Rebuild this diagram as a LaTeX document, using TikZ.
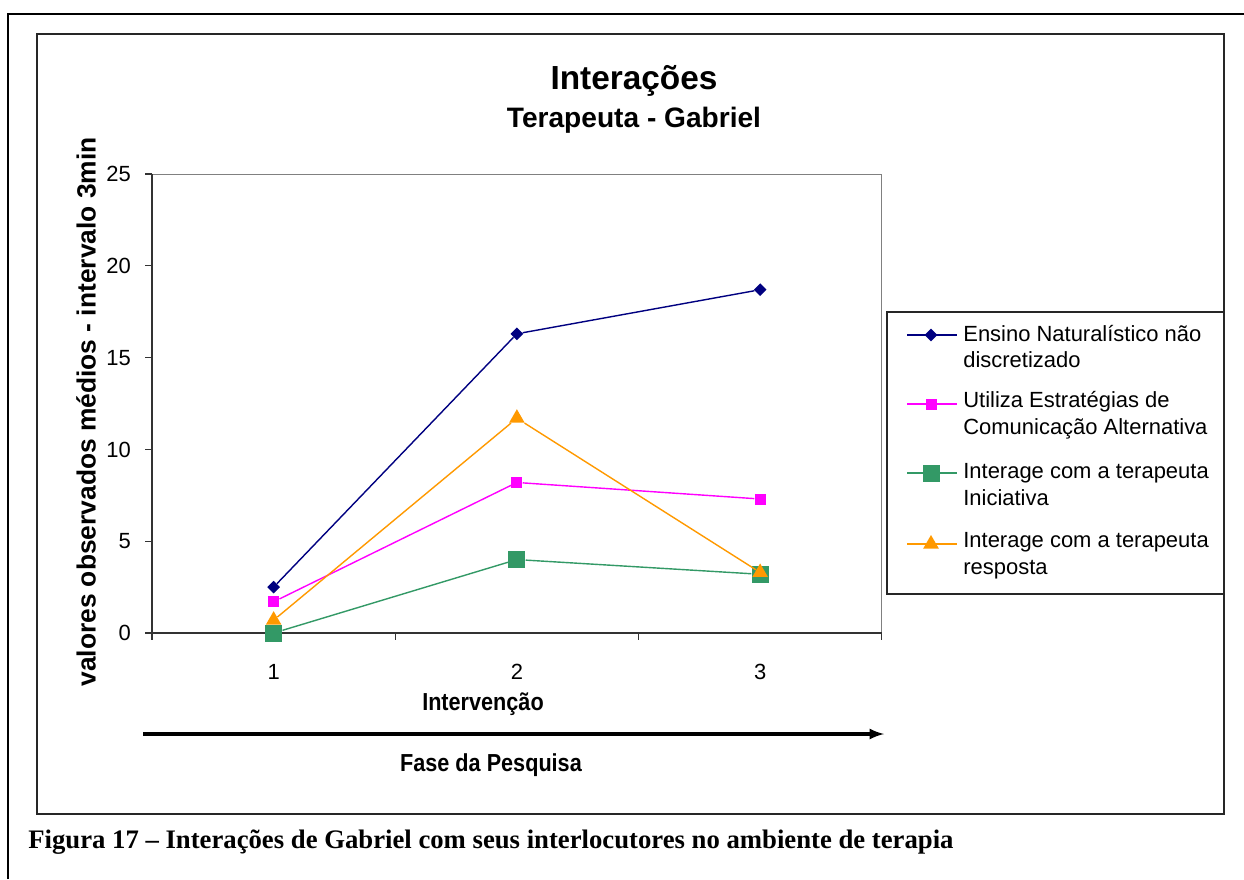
\documentclass[tikz,border=0pt]{standalone}
\usepackage{fontspec}
\setmainfont{Liberation Sans}
\newfontfamily\captionfont{Liberation Serif}
\usetikzlibrary{
    arrows,
    shapes.geometric,
    positioning
}
\definecolor{serieblue}{RGB}{0,0,128}
\definecolor{seriepink}{RGB}{255,0,255}
\definecolor{seriegreen}{RGB}{51,153,102}
\definecolor{serieorange}{RGB}{255,153,0}
\tikzset{
    chartframe/.style={draw=black!85, line width=0.8pt},
    plotbox/.style={draw=black!50, line width=0.6pt},
    axisline/.style={draw=black!80, line width=0.7pt},
    ticklabel/.style={font=\fontsize{12.5}{14}\selectfont},
    legendtext/.style={font=\fontsize{12.5}{15.3}\selectfont, anchor=west, align=left, inner sep=0pt},
    serie/.style={line width=0.8pt},
    bluemark/.style={diamond, fill=serieblue, inner sep=0pt, minimum size=0.26cm},
    pinkmark/.style={rectangle, fill=seriepink, inner sep=0pt, minimum size=0.22cm},
    greenmark/.style={rectangle, fill=seriegreen, inner sep=0pt, minimum size=0.34cm},
    orangemark/.style={regular polygon, regular polygon sides=3, fill=serieorange, inner sep=0pt, minimum size=0.36cm}
}
\begin{document}
\begin{tikzpicture}[x=0.02cm, y=-0.02cm]
    \useasboundingbox (0,0) rectangle (1244,879);
    \draw[line width=1.3pt] (8,879) -- (8,14) -- (1244,14);
    \draw[chartframe] (37,34) rectangle (1224,814);
    \node[font=\bfseries\fontsize{19}{22}\selectfont] (title) at (634,81) {Interações};
    \node[font=\bfseries\fontsize{16}{19}\selectfont] (subtitle) at (634,120) {Terapeuta - Gabriel};
    \node[font=\bfseries\fontsize{15}{18}\selectfont, rotate=90] (ylabel) at (86,412) {valores observados médios - intervalo 3min};
    \begin{scope}[shift={(152,633)}, x=4.866cm, y=0.3672cm]
        \draw[plotbox] (0,0) -- (0,25) -- (3,25) -- (3,0);
        \draw[axisline] (0,25) -- (0,0) -- (3,0);
        \foreach \v in {0,5,...,25} {
            \draw[axisline] (0,\v) -- ++(-0.14cm,0);
            \node[ticklabel, anchor=east] (y\v) at ([xshift=-0.3cm]0,\v) {\v};
        }
        \foreach \c in {0,1,2,3}
            \draw[axisline] (\c,0) -- ++(0,-0.14cm);
        \foreach \c in {1,2,3}
            \node[ticklabel] (x\c) at ([yshift=-0.78cm]\c-0.5,0) {\c};
        % data points
        \node[bluemark] (b1) at (0.5,2.5) {};
        \node[bluemark] (b2) at (1.5,16.3) {};
        \node[bluemark] (b3) at (2.5,18.7) {};
        \node[pinkmark] (p1) at (0.5,1.7) {};
        \node[pinkmark] (p2) at (1.5,8.2) {};
        \node[pinkmark] (p3) at (2.5,7.3) {};
        \node[greenmark] (g1) at (0.5,0) {};
        \node[greenmark] (g2) at (1.5,4.0) {};
        \node[greenmark] (g3) at (2.5,3.2) {};
        \node[orangemark] (o1) at (0.5,0.7) {};
        \node[orangemark] (o2) at (1.5,11.7) {};
        \node[orangemark] (o3) at (2.5,3.3) {};
        \draw[serie, serieblue] (b1) -- (b2) -- (b3);
        \draw[serie, seriepink] (p1) -- (p2) -- (p3);
        \draw[serie, seriegreen] (g1) -- (g2) -- (g3);
        \draw[serie, serieorange] (o1) -- (o2) -- (o3);
    \end{scope}
    \node[font=\bfseries\fontsize{14}{16}\selectfont] (xlabel) at (483,704) {\scalebox{0.88}[1]{Intervenção}};
    \coordinate (phasestart) at (143,734);
    \coordinate (phaseend) at (884,734);
    \draw[line width=1.8pt, -latex] (phasestart) -- (phaseend);
    \node[font=\bfseries\fontsize{14}{16}\selectfont] (phase) at (491,765) {\scalebox{0.88}[1]{Fase da Pesquisa}};
    % legend
    \draw[draw=black!85, line width=0.7pt] (887,312) rectangle (1224,594);
    \foreach \y/\col/\mk/\txt [count=\i] in {
        335/serieblue/bluemark/{Ensino Naturalístico não\\discretizado},
        404/seriepink/pinkmark/{Utiliza Estratégias de\\Comunicação Alternativa},
        473/seriegreen/greenmark/{Interage com a terapeuta\\Iniciativa},
        544/serieorange/orangemark/{Interage com a terapeuta\\resposta}} {
        \coordinate (la\i) at (907,\y);
        \coordinate (lb\i) at (957,\y);
        \draw[serie, \col] (la\i) -- (lb\i);
        \node[\mk] (lm\i) at (931,\y) {};
        \node[legendtext] (lt\i) at (963,\y+11.5) {\txt};
    }
    \node[font=\captionfont\bfseries\fontsize{15.2}{18}\selectfont, anchor=base west, inner sep=0pt] (caption) at (28,848) {Figura 17 – Interações de Gabriel com seus interlocutores no ambiente de terapia};
\end{tikzpicture}
\end{document}
